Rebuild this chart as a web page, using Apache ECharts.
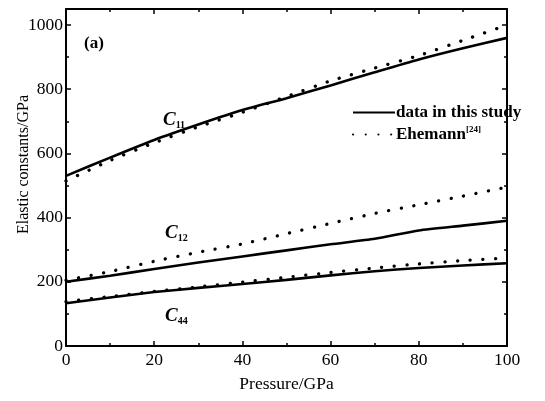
<!DOCTYPE html>
<html><head><meta charset="utf-8">
<script src="https://cdn.jsdelivr.net/npm/echarts@6/dist/echarts.min.js"></script>
<style>html,body{margin:0;padding:0;background:#fff}#c{width:545px;height:401px}</style>
</head><body><div id="c"></div>
<script>
var pressure = [0,10,20,30,40,50,60,70,80,90,100];
var c11Study    = [530,587,642,690,735,772,812,853,893,928,960];
var c11Ehemann  = [514,578,633,683,728,777,826,866,905,952,1000];
var c12Study    = [200,219,240,260,279,298,317,334,360,375,390];
var c12Ehemann  = [205,232,264,292,318,350,382,413,440,467,495];
var c44Study    = [133,151,168,181,193,206,220,233,243,251,258];
var c44Ehemann  = [138,154,170,184,199,214,229,243,256,266,274];
var xTicks = [0,20,40,60,80,100];
var yTicks = [0,200,400,600,800,1000];

var F = '"Liberation Serif", "Times New Roman", serif';
function pts(arr){ return pressure.map(function(p,i){return [p,arr[i]];}); }
function solid(arr){ return {type:'line',name:'data in this study',data:pts(arr),symbol:'none',smooth:0.2,
  lineStyle:{color:'#000',width:2.6,type:'solid'},itemStyle:{color:'#000'},z:3}; }
function dotted(arr){ return {type:'line',name:'Ehemann',data:pts(arr),symbol:'none',smooth:0.2,
  lineStyle:{color:'#000',width:3.3,type:[0.1,12.6],cap:'round'},itemStyle:{color:'#000'},z:2}; }

function axisCommon(){ return {
  axisLine:{show:true,onZero:false,lineStyle:{color:'#000',width:2}},
  axisTick:{show:true,inside:true,length:5,lineStyle:{color:'#000',width:1.5}},
  minorTick:{show:true,splitNumber:2,length:3,lineStyle:{color:'#000',width:1.5}},
  splitLine:{show:false}
};}
var chart = echarts.init(document.getElementById('c'));
chart.setOption({
  animation:false,
  grid:{left:66,right:38,top:9,bottom:55,outerBoundsMode:'none',containLabel:false},
  xAxis:[
    Object.assign({type:'value',min:0,max:100,interval:20,position:'bottom',
      name:'Pressure/GPa',nameLocation:'middle',nameGap:29,nameMoveOverlap:false,
      nameTextStyle:{fontFamily:F,fontSize:17.5,color:'#000'},
      axisLabel:{fontFamily:F,fontSize:17.5,color:'#000',margin:5,
        formatter:function(v){return xTicks.indexOf(v)>=0?String(v):'';}}},axisCommon()),
    Object.assign({type:'value',min:0,max:100,interval:20,position:'top',axisLabel:{show:false}},axisCommon())
  ],
  yAxis:[
    Object.assign({type:'value',min:0,max:1050,interval:200,position:'left',
      name:'Elastic constants/GPa',nameLocation:'middle',nameGap:34,nameMoveOverlap:false,
      nameTextStyle:{fontFamily:F,fontSize:16,color:'#000',padding:[0,0,0,26]},
      axisLabel:{fontFamily:F,fontSize:17.5,color:'#000',margin:3,
        formatter:function(v){return yTicks.indexOf(v)>=0?String(v):'';}}},axisCommon()),
    Object.assign({type:'value',min:0,max:1050,interval:200,position:'right',axisLabel:{show:false}},axisCommon())
  ],
  legend:{
    data:['data in this study','Ehemann'],
    orient:'vertical',left:352,top:104,padding:0,itemWidth:42,itemHeight:12,itemGap:4,
    itemStyle:{color:'transparent',borderColor:'transparent',borderWidth:0,opacity:0},
    textStyle:{fontFamily:F,fontSize:17,fontWeight:'bold',color:'#000',padding:[0,0,0,-4],
      rich:{b:{fontFamily:F,fontSize:17,fontWeight:'bold',color:'#000'},
            sup:{fontFamily:F,fontSize:9,fontWeight:'bold',color:'#000',verticalAlign:'top',padding:[0,0,10,0]}}},
    formatter:function(n){return n==='Ehemann'?'{b|Ehemann}{sup|[24]}':n;}
  },
  graphic:[
    {type:'text',left:84,top:35,style:{text:'(a)',font:'bold 17px '+F,fill:'#000'}},
    {type:'text',left:163,top:111,style:{text:'{c|C}{s|11}',rich:{c:{font:'italic bold 19px '+F,fill:'#000'},s:{font:'bold 10px '+F,fill:'#000',padding:[9,0,0,0]}}}},
    {type:'text',left:165,top:224,style:{text:'{c|C}{s|12}',rich:{c:{font:'italic bold 19px '+F,fill:'#000'},s:{font:'bold 10px '+F,fill:'#000',padding:[9,0,0,0]}}}},
    {type:'text',left:165,top:307,style:{text:'{c|C}{s|44}',rich:{c:{font:'italic bold 19px '+F,fill:'#000'},s:{font:'bold 10px '+F,fill:'#000',padding:[9,0,0,0]}}}}
  ],
  series:[solid(c11Study),dotted(c11Ehemann),solid(c12Study),dotted(c12Ehemann),solid(c44Study),dotted(c44Ehemann)]
});
</script></body></html>
